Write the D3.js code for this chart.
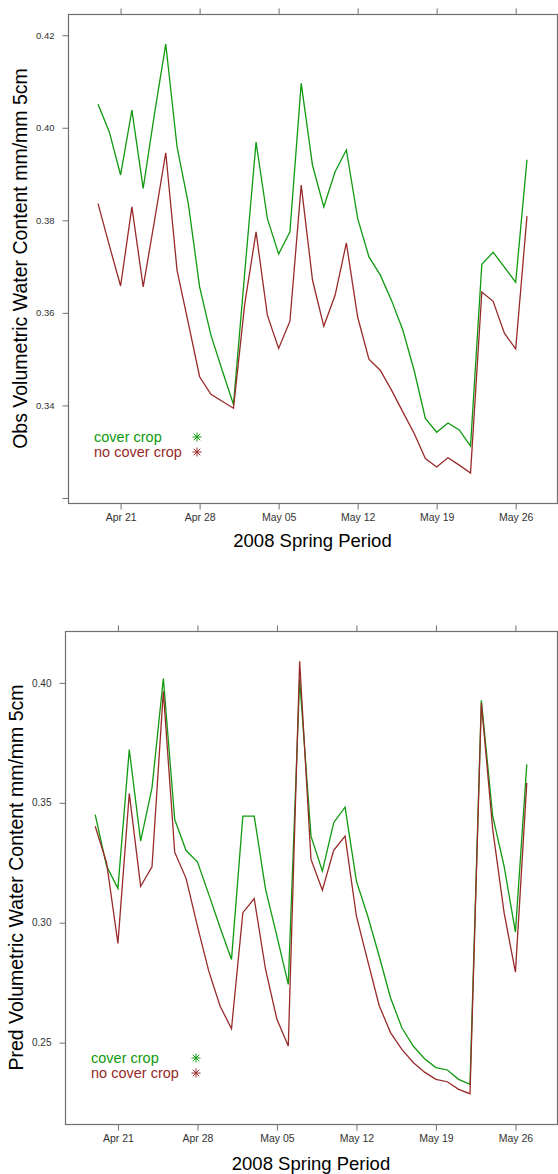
<!DOCTYPE html>
<html>
<head>
<meta charset="utf-8">
<script src="https://cdn.jsdelivr.net/npm/d3@7"></script>
<style>
  body { margin: 0; background: #fff; }
  svg { display: block; font-family: "Liberation Sans", Arial, sans-serif; }
</style>
</head>
<body>
<svg id="chart" width="558" height="1174"></svg>
<script>
// days of the 2008 spring period
const dates = [
  "2008-04-19","2008-04-20","2008-04-21","2008-04-22","2008-04-23","2008-04-24","2008-04-25",
  "2008-04-26","2008-04-27","2008-04-28","2008-04-29","2008-04-30","2008-05-01","2008-05-02",
  "2008-05-03","2008-05-04","2008-05-05","2008-05-06","2008-05-07","2008-05-08","2008-05-09",
  "2008-05-10","2008-05-11","2008-05-12","2008-05-13","2008-05-14","2008-05-15","2008-05-16",
  "2008-05-17","2008-05-18","2008-05-19","2008-05-20","2008-05-21","2008-05-22","2008-05-23",
  "2008-05-24","2008-05-25","2008-05-26","2008-05-27"
]

// observed water content
const obsCover = [
  0.4051, 0.3991, 0.3898, 0.4038, 0.3869, 0.4030, 0.4181, 0.3959, 0.3836, 0.3656,
  0.3552, 0.3476, 0.3402, 0.3688, 0.3969, 0.3804, 0.3727, 0.3775, 0.4096, 0.3919,
  0.3829, 0.3905, 0.3952, 0.3804, 0.3721, 0.3682, 0.3627, 0.3563, 0.3476, 0.3372,
  0.3342, 0.3362, 0.3347, 0.3312, 0.3705, 0.3731, 0.3699, 0.3666, 0.3931
]
const obsNoCover = [
  0.3836, 0.3746, 0.3658, 0.3829, 0.3656, 0.3799, 0.3946, 0.3692, 0.3578, 0.3462,
  0.3424, 0.3409, 0.3394, 0.3620, 0.3775, 0.3595, 0.3523, 0.3582, 0.3876, 0.3671,
  0.3571, 0.3638, 0.3751, 0.3591, 0.3500, 0.3476, 0.3433, 0.3386, 0.3340, 0.3285,
  0.3267, 0.3287, 0.3271, 0.3254, 0.3645, 0.3625, 0.3556, 0.3522, 0.3809
]

// predicted water content
const predCover = [
  0.3451, 0.3236, 0.3143, 0.3722, 0.3340, 0.3562, 0.4018, 0.3430, 0.3301, 0.3254,
  0.3118, 0.2979, 0.2847, 0.3444, 0.3444, 0.3139, 0.2944, 0.2743, 0.4015, 0.3361,
  0.3215, 0.3417, 0.3482, 0.3173, 0.3027, 0.2861, 0.2687, 0.2562, 0.2486, 0.2433,
  0.2396, 0.2386, 0.2347, 0.2326, 0.3927, 0.3444, 0.3236, 0.2961, 0.3660
]
const predNoCover = [
  0.3402, 0.3250, 0.2914, 0.3539, 0.3152, 0.3233, 0.3965, 0.3294, 0.3185, 0.2986,
  0.2798, 0.2652, 0.2558, 0.3042, 0.3101, 0.2805, 0.2597, 0.2486, 0.4090, 0.3264,
  0.3136, 0.3302, 0.3361, 0.3027, 0.2840, 0.2655, 0.2542, 0.2472, 0.2417, 0.2377,
  0.2347, 0.2337, 0.2305, 0.2287, 0.3917, 0.3389, 0.3042, 0.2794, 0.3583
]

const xTicks = ["2008-04-21","2008-04-28","2008-05-05","2008-05-12","2008-05-19","2008-05-26"]
const obsYTicks = [0.32, 0.34, 0.36, 0.38, 0.40, 0.42]
const obsYLabels = ["", "0.34", "0.36", "0.38", "0.40", "0.42"]
const predYTicks = [0.25, 0.30, 0.35, 0.40]
const predYLabels = ["0.25", "0.30", "0.35", "0.40"]
const groupNames = ["cover crop", "no cover crop"]

const colCover = "#0f9a0f"
const colNoCover = "#982a2a"
const axisCol = "#707070"

const parse = d3.timeParse("%Y-%m-%d")
const days = dates.map(parse)
const fmt = d3.timeFormat("%b %d")

let svg = d3.select('#chart')

// lattice style padding: 7% of the range on every side
function padded(ext) {
  let p = (ext[1] - ext[0]) * 0.07
  return [ext[0] - p, ext[1] + p]
}

function asterisk(g, x, y, col) {
  let r = 4.5
  let p = d3.path()
  p.moveTo(x - r, y); p.lineTo(x + r, y)
  p.moveTo(x, y - r); p.lineTo(x, y + r)
  let q = r * 0.72
  p.moveTo(x - q, y - q); p.lineTo(x + q, y + q)
  p.moveTo(x - q, y + q); p.lineTo(x + q, y - q)
  g.append('path').attr('d', p.toString())
    .attr('stroke', col).attr('stroke-width', 1).attr('fill', 'none')
}

function drawPanel(cfg) {
  let g = svg.append('g')

  let dayExt = d3.extent(days).map(d => +d)
  let x = d3.scaleTime().domain(padded(dayExt)).range([cfg.left, cfg.right])
  let allVals = cfg.series[0].concat(cfg.series[1])
  let y = d3.scaleLinear().domain(padded(d3.extent(allVals))).range([cfg.bottom, cfg.top])

  // frame
  g.append('rect')
    .attr('x', cfg.left + 0.5).attr('y', cfg.top + 0.5)
    .attr('width', cfg.right - cfg.left).attr('height', cfg.bottom - cfg.top)
    .attr('fill', 'none').attr('stroke', axisCol).attr('stroke-width', 1.2)

  // x axis bottom, ticks also on top without labels
  let tickDays = xTicks.map(parse)
  g.append('g')
    .attr('transform', 'translate(0,' + (cfg.bottom + 0.5) + ')')
    .call(d3.axisBottom(x).tickValues(tickDays).tickFormat(fmt).tickSize(6).tickPadding(4))
    .call(a => a.select('.domain').remove())
    .call(a => a.selectAll('line').attr('stroke', axisCol))
    .call(a => a.selectAll('text').attr('font-size', 10.5).attr('fill', '#333')
      .attr('font-family', '"Liberation Sans", Arial, sans-serif'))

  g.append('g')
    .attr('transform', 'translate(0,' + (cfg.top + 0.5) + ')')
    .call(d3.axisTop(x).tickValues(tickDays).tickFormat('').tickSize(6))
    .call(a => a.select('.domain').remove())
    .call(a => a.selectAll('line').attr('stroke', axisCol))

  // y axis left
  g.append('g')
    .attr('transform', 'translate(' + (cfg.left + 0.5) + ',0)')
    .call(d3.axisLeft(y).tickValues(cfg.yTicks)
      .tickFormat((d, i) => cfg.yLabels[i]).tickSize(6).tickPadding(8))
    .call(a => a.select('.domain').remove())
    .call(a => a.selectAll('line').attr('stroke', axisCol))
    .call(a => a.selectAll('text').attr('font-size', cfg.yFont).attr('fill', '#333')
      .attr('font-family', '"Liberation Sans", Arial, sans-serif'))

  // lines
  let line = d3.line()
    .x((d, i) => x(days[i]))
    .y(d => y(d))

  g.append('path').datum(cfg.series[0])
    .attr('d', line).attr('fill', 'none')
    .attr('stroke', colCover).attr('stroke-width', 1.3)
  g.append('path').datum(cfg.series[1])
    .attr('d', line).attr('fill', 'none')
    .attr('stroke', colNoCover).attr('stroke-width', 1.3)

  // titles
  g.append('text')
    .attr('x', (cfg.left + cfg.right) / 2)
    .attr('y', cfg.xTitleY)
    .attr('text-anchor', 'middle')
    .attr('font-size', 18.5)
    .attr('fill', '#000')
    .text('2008 Spring Period')

  g.append('text')
    .attr('transform', 'translate(' + cfg.yTitleX + ',' + ((cfg.top + cfg.bottom) / 2) + ') rotate(-90)')
    .attr('text-anchor', 'middle')
    .attr('font-size', 19.5)
    .attr('fill', '#000')
    .text(cfg.yTitle)

  // legend
  let cols = [colCover, colNoCover]
  groupNames.forEach((name, i) => {
    g.append('text')
      .attr('x', cfg.legend.x)
      .attr('y', cfg.legend.y + i * 15)
      .attr('font-size', 14.5)
      .attr('fill', cols[i])
      .text(name)
    asterisk(g, cfg.legend.symX, cfg.legend.y - 5 + i * 15, cols[i])
  })
}

drawPanel({
  left: 68, right: 557, top: 14, bottom: 503,
  series: [obsCover, obsNoCover],
  yTicks: obsYTicks, yLabels: obsYLabels, yFont: 9.5,
  xTitleY: 547, yTitleX: 27,
  yTitle: 'Obs Volumetric Water Content mm/mm 5cm',
  legend: { x: 94, y: 442, symX: 197 }
})

drawPanel({
  left: 65, right: 557, top: 631, bottom: 1124,
  series: [predCover, predNoCover],
  yTicks: predYTicks, yLabels: predYLabels, yFont: 10,
  xTitleY: 1170, yTitleX: 23,
  yTitle: 'Pred Volumetric Water Content mm/mm 5cm',
  legend: { x: 91, y: 1063, symX: 196 }
})
</script>
</body>
</html>
